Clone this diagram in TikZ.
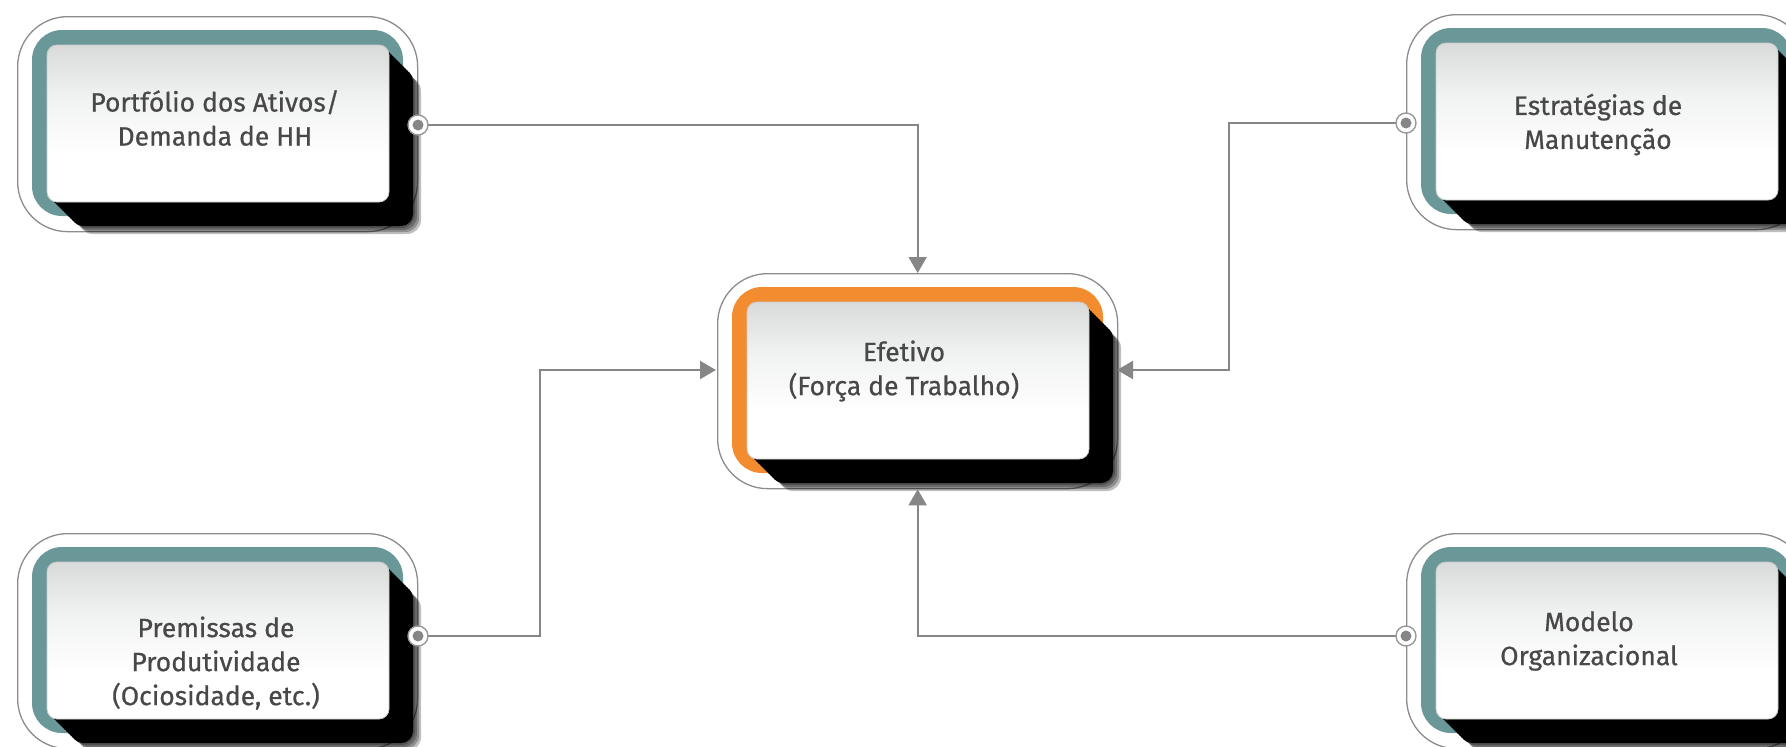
\documentclass[tikz,border=0pt]{standalone}
\usepackage{fontspec}
\setmainfont{Fira Sans}
\newfontfamily\cardfont{Fira Sans}[FakeBold=0.6]
\usetikzlibrary{arrows.meta}

\definecolor{frameteal}{HTML}{6A9899}
\definecolor{frameorange}{HTML}{F38C2E}
\definecolor{framegray}{HTML}{8C8C8C}
\definecolor{linegray}{HTML}{868686}
\definecolor{labelgray}{HTML}{484848}
\definecolor{facetop}{HTML}{D9DBDA}
\definecolor{facemid}{HTML}{F1F2F2}
\definecolor{faceedge}{HTML}{C8CACA}

% face gradient: grey at the top, white over the lower part
\pgfdeclareverticalshading{cardface}{100bp}{%
  color(0bp)=(white); color(25bp)=(white); color(40bp)=(white);
  color(58bp)=(facemid); color(75bp)=(facetop); color(100bp)=(facetop)}

% one card: #1 name, #2 left, #3 top, #4 band colour, #5/#6 text centre, #7 text
\newcommand\card[7]{%
  \node[outerframe, anchor=north west] (#1) at (#2,#3) {};
  \fill[#4, rounded corners=30pt] (#2+15,#3+14) rectangle (#2+386,#3+200);
  % diagonal drop shadow of the face
  \foreach \off in {0,2,...,24}
    \fill[black, rounded corners=12pt] (#2+30+\off,#3+29+\off) rectangle (#2+372+\off,#3+186+\off);
  \foreach \off in {26,28,30,32}
    \fill[black, opacity=.25, rounded corners=14pt] (#2+30+\off,#3+29+\off) rectangle (#2+372+\off,#3+186+\off);
  \shade[shading=cardface, draw=faceedge, line width=.8pt, rounded corners=10pt]
    (#2+30,#3+29) rectangle (#2+372,#3+186);
  \node[cardtext] (#1text) at (#5,#6) {#7};
}

\begin{document}
\begin{tikzpicture}[x=1pt,y=-1pt,
  outerframe/.style={draw=framegray, line width=1.3pt, fill=white, rounded corners=50pt,
    minimum width=400pt, minimum height=215pt, inner sep=0pt},
  cardtext/.style={text=labelgray, align=center, inner sep=0pt,
    font=\cardfont\fontsize{26.5}{34}\selectfont},
  conn/.style={draw=linegray, line width=2pt},
  arr/.style={conn, -{Triangle[length=16pt,width=18pt]}},
  dotring/.style={draw=linegray!85, line width=1.4pt, fill=white},
  dotcore/.style={fill=linegray},
]
\useasboundingbox (0,0) rectangle (1786,747);
\clip (0,0) rectangle (1786,747);
\fill[white] (0,0) rectangle (1786,747);

\card{tl}{17}{16}{frameteal}{215}{118}{Portfólio dos Ativos/\\Demanda de HH}
\card{tr}{1406}{14}{frameteal}{1598}{124.5}{Estratégias de\\Manutenção}
\card{bl}{17}{533}{frameteal}{216}{663}{Premissas de\\Produtividade\\(Ociosidade, etc.)}
\card{br}{1406}{533}{frameteal}{1589}{641}{Modelo\\Organizacional}
\card{ef}{717}{273}{frameorange}{904}{371}{Efetivo\\(Força de Trabalho)}

% connector ends and bends
\coordinate (tlDot) at (418,125);
\coordinate (trDot) at (1406,123);
\coordinate (blDot) at (418,636);
\coordinate (brDot) at (1406,636);
\coordinate (trBend) at (1229,370);
\coordinate (blBend) at (540,370);
\coordinate (efW) at (716,370);
\coordinate (efE) at (1117,370);

\draw[arr] (tlDot) -| (ef.north);
\draw[arr] (brDot) -| (ef.south);
\draw[arr] (trDot) -| (trBend) -- (efE);
\draw[arr] (blDot) -| (blBend) -- (efW);

\foreach \p in {tlDot,trDot,blDot,brDot}{
  \draw[dotring] (\p) circle[radius=10pt];
  \fill[dotcore] (\p) circle[radius=5.5pt];
}
\end{tikzpicture}
\end{document}
